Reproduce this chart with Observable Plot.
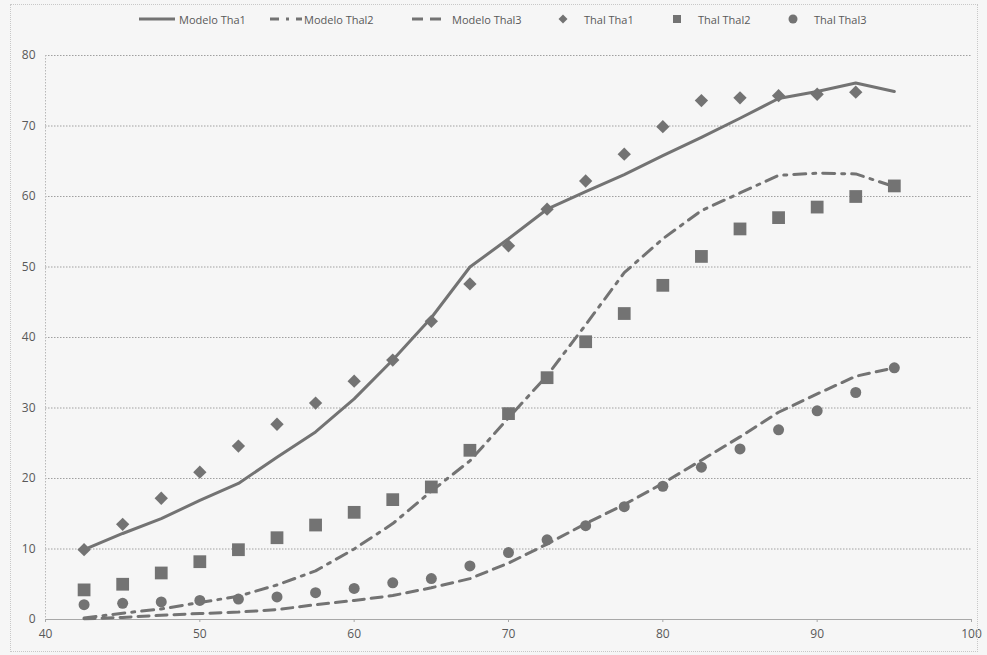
<!DOCTYPE html>
<html>
<head>
<meta charset="utf-8">
<script src="https://cdn.jsdelivr.net/npm/d3@7"></script>
<script src="https://cdn.jsdelivr.net/npm/@observablehq/plot@0.6"></script>
<style>
  html, body { margin: 0; padding: 0; background: #f6f6f6; }
  body { width: 987px; height: 655px; position: relative; overflow: hidden; font-family: "Open Sans", sans-serif; }
  #frame { position: absolute; left: 10px; top: 4px; width: 966px; height: 646px; border: 1px dotted #c8c8c8; pointer-events: none; }
  #legend { position: relative; height: 30px; font-size: 11px; color: #595959; }
  #legend .item { position: absolute; top: 11px; height: 16px; display: flex; align-items: center; white-space: nowrap; }
  #legend svg { display: block; }
  #chart { display: block; }
</style>
</head>
<body>
<div id="frame"></div>
<div id="legend"></div>
<div id="chart"></div>
<script>
// Data
const xs = [42.5, 45, 47.5, 50, 52.5, 55, 57.5, 60, 62.5, 65, 67.5, 70, 72.5, 75, 77.5, 80, 82.5, 85, 87.5, 90, 92.5, 95];
const xTicks = [40, 50, 60, 70, 80, 90, 100];
const yTicks = [0, 10, 20, 30, 40, 50, 60, 70, 80];

const modeloTha1  = [9.9, 12.2, 14.3, 16.9, 19.3, 23.0, 26.6, 31.3, 36.8, 42.8, 50.0, 54.0, 58.2, 60.7, 63.1, 65.8, 68.4, 71.1, 73.9, 74.9, 76.1, 74.9];
const modeloThal2 = [0.2, 0.9, 1.5, 2.4, 3.3, 4.9, 6.9, 10.0, 13.6, 18.2, 22.5, 28.6, 34.6, 41.8, 49.2, 54.0, 58.0, 60.5, 63.0, 63.3, 63.2, 61.4];
const modeloThal3 = [0.1, 0.3, 0.6, 0.85, 1.05, 1.4, 2.1, 2.7, 3.4, 4.5, 5.8, 8.0, 10.7, 13.6, 16.3, 19.3, 22.6, 25.9, 29.4, 32.0, 34.5, 35.7];
const thalTha1    = [9.9, 13.5, 17.2, 20.9, 24.6, 27.7, 30.7, 33.8, 36.8, 42.3, 47.6, 53.0, 58.2, 62.2, 66.0, 69.9, 73.6, 74.0, 74.3, 74.5, 74.8];
const thalThal2   = [4.2, 5.0, 6.6, 8.2, 9.9, 11.6, 13.4, 15.2, 17.0, 18.8, 24.0, 29.2, 34.3, 39.4, 43.4, 47.4, 51.5, 55.4, 57.0, 58.5, 60.0, 61.5];
const thalThal3   = [2.1, 2.3, 2.5, 2.7, 2.9, 3.2, 3.8, 4.4, 5.2, 5.8, 7.6, 9.5, 11.3, 13.3, 16.0, 18.9, 21.6, 24.2, 26.9, 29.6, 32.2, 35.7];

const seriesNames = ["Modelo Tha1", "Modelo Thal2", "Modelo Thal3", "Thal Tha1", "Thal Thal2", "Thal Thal3"];

const grey = "#737373";
const rows = ys => ys.map((y, i) => ({x: xs[i], y}));

const chart = Plot.plot({
  width: 987,
  height: 625,
  marginLeft: 45,
  marginRight: 16,
  marginTop: 25,
  marginBottom: 36,
  style: {background: "transparent", fontFamily: "Open Sans, sans-serif", fontSize: "12px", color: "#595959"},
  x: {domain: [40, 100]},
  y: {domain: [0, 80]},
  marks: [
    Plot.gridY(yTicks.filter(v => v > 0), {stroke: "#a0a0a0", strokeOpacity: 1, strokeDasharray: "1.5,1.5"}),
    Plot.ruleX([40], {stroke: "#b8b8b8", strokeDasharray: "1.5,1.5"}),
    Plot.ruleY([0], {stroke: "#a8a8a8"}),
    Plot.axisY(yTicks, {tickSize: 0, tickPadding: 10, fill: "#595959", label: null}),
    Plot.axisX(xTicks, {tickSize: 3, tickPadding: 7, stroke: "#a8a8a8", fill: "#595959", label: null}),
    Plot.line(rows(modeloTha1), {x: "x", y: "y", stroke: grey, strokeWidth: 3}),
    Plot.line(rows(modeloThal2), {x: "x", y: "y", stroke: grey, strokeWidth: 3, strokeDasharray: "12,7,3,7"}),
    Plot.line(rows(modeloThal3), {x: "x", y: "y", stroke: grey, strokeWidth: 3, strokeDasharray: "11,7"}),
    Plot.dot(rows(thalTha1), {x: "x", y: "y", symbol: "diamond2", r: 6.0, fill: grey, stroke: "none"}),
    Plot.dot(rows(thalThal2), {x: "x", y: "y", symbol: "square", r: 7.2, fill: grey, stroke: "none"}),
    Plot.dot(rows(thalThal3), {x: "x", y: "y", symbol: "circle", r: 5.5, fill: grey, stroke: "none"})
  ]
});
document.getElementById("chart").appendChild(chart);

// Legend (HTML above the SVG)
const legend = document.getElementById("legend");
const legendPos = [139, 270, 412, 556, 670, 786];
const swatches = [
  `<svg width="36" height="10"><line x1="0" y1="5" x2="36" y2="5" stroke="${grey}" stroke-width="3"/></svg>`,
  `<svg width="32" height="10"><line x1="0" y1="5" x2="32" y2="5" stroke="${grey}" stroke-width="3" stroke-dasharray="9,7,3,7"/></svg>`,
  `<svg width="36" height="10"><line x1="0" y1="5" x2="36" y2="5" stroke="${grey}" stroke-width="3" stroke-dasharray="11,7"/></svg>`,
  `<svg width="14" height="14"><path d="M7,2.5L11.5,7L7,11.5L2.5,7Z" fill="${grey}"/></svg>`,
  `<svg width="14" height="14"><rect x="3" y="3" width="8" height="8" fill="${grey}"/></svg>`,
  `<svg width="14" height="14"><circle cx="7" cy="7" r="4.5" fill="${grey}"/></svg>`
];
const textGap = [4, 2, 4, 14, 14, 14];
seriesNames.forEach((name, i) => {
  const div = document.createElement("div");
  div.className = "item";
  div.style.left = legendPos[i] + "px";
  div.innerHTML = swatches[i] + `<span style="margin-left:${textGap[i]}px">${name}</span>`;
  legend.appendChild(div);
});
</script>
</body>
</html>
